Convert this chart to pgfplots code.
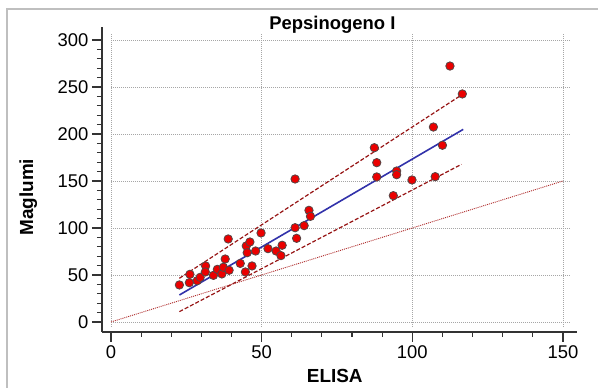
\documentclass[border=0pt]{standalone}
\usepackage{pgfplots}
\pgfplotsset{compat=1.18}
\usepackage{fontspec}
\setmainfont{Liberation Sans}
\definecolor{regblue}{RGB}{50,50,170}
\definecolor{dashred}{RGB}{150,20,20}
\definecolor{idred}{RGB}{175,45,45}
\definecolor{ptred}{RGB}{235,0,0}
\definecolor{ptedge}{RGB}{85,70,70}
\begin{document}
\begin{tikzpicture}
\begin{axis}[
  x=3.0133bp, y=0.94bp,
  xmin=-3, xmax=154.7, ymin=-10.6, ymax=313.8,
  axis x line=bottom, axis y line=left,
  axis line style={-, line width=1.3bp, color=black!80},
  xtick={0,50,100,150}, ytick={0,50,...,300},
  minor x tick num=4, minor y tick num=4,
  tick align=outside,
  major tick length=10bp, minor tick length=5bp,
  tick style={line width=1.1bp, color=black!80},
  ticklabel style={font=\fontsize{18.5}{21}\selectfont},
  /pgf/number format/assume math mode=true,
  clip=false,
  title={Pepsinogeno I},
  title style={at={(axis description cs:0.485,1.003)}, anchor=base, yshift=-9bp, font=\fontsize{18.5}{21}\selectfont\bfseries},
  xlabel={ELISA},
  xlabel style={at={(axis description cs:0.49,0)}, anchor=base, yshift=-51bp, font=\fontsize{19}{21}\selectfont\bfseries},
  ylabel={Maglumi},
  ylabel style={at={(axis description cs:-0.145,0.442)}, anchor=base, font=\fontsize{19}{21}\selectfont\bfseries},
]
% frame of the picture
\draw[color=black!25, line width=1.2bp] (axis cs:-34.5,-70.2) -- (axis cs:-34.5,333) -- (axis cs:161.63,333);
\coordinate (bbl) at (axis cs:-36.84,-70.2);
\coordinate (btr) at (axis cs:161.63,342.55);
% grid
\pgfplotsinvokeforeach{0,50,100,150,200,250,300}{
  \draw[color=black!35, line width=0.6bp, dash pattern=on 1bp off 1bp] (axis cs:0,#1) -- (axis cs:152,#1);
}
\pgfplotsinvokeforeach{0,50,100,150}{
  \draw[color=black!35, line width=0.6bp, dash pattern=on 1bp off 1bp] (axis cs:#1,-5) -- (axis cs:#1,307);
}
% lines
\addplot[idred, line width=0.9bp, dash pattern=on 1bp off 1bp] coordinates {(0,0) (150,150)};
\addplot[dashred, line width=1.2bp, dash pattern=on 4bp off 2bp] coordinates {(22.7,46.5) (117.2,243.3)};
\addplot[dashred, line width=1.2bp, dash pattern=on 4bp off 2bp] coordinates {(22.7,11.0) (116.3,167.7)};
\addplot[regblue, line width=1.6bp] coordinates {(22.7,28.7) (116.9,204.9)};
% points
\addplot[only marks, mark=*, mark size=4.2bp, mark options={fill=ptred, draw=ptedge, line width=0.8bp}] table {
x y
22.7 39.4
26.0 41.8
26.2 50.7
28.6 43.9
29.6 47.5
31.4 59.6
31.3 53.2
34.0 49.6
35.3 56.0
36.8 51.1
37.3 58.2
37.9 67.0
39.2 55.0
38.9 88.3
42.9 62.3
44.6 53.2
44.9 80.9
45.2 73.7
46.1 85.1
46.8 59.6
48.0 75.5
49.8 94.7
52.1 78.0
54.8 75.5
56.4 70.6
56.8 81.6
61.1 152.1
61.1 100.3
61.6 89.0
64.1 102.5
65.7 118.8
66.2 112.4
112.5 272.3
116.6 242.6
107.0 207.4
87.4 185.4
110.0 188.0
88.2 169.5
94.8 160.6
94.8 156.7
88.2 154.3
99.9 151.1
107.6 154.6
93.7 134.4
};
\end{axis}
\pgfresetboundingbox
\path[use as bounding box] (bbl) rectangle (btr);
\end{tikzpicture}
\end{document}
